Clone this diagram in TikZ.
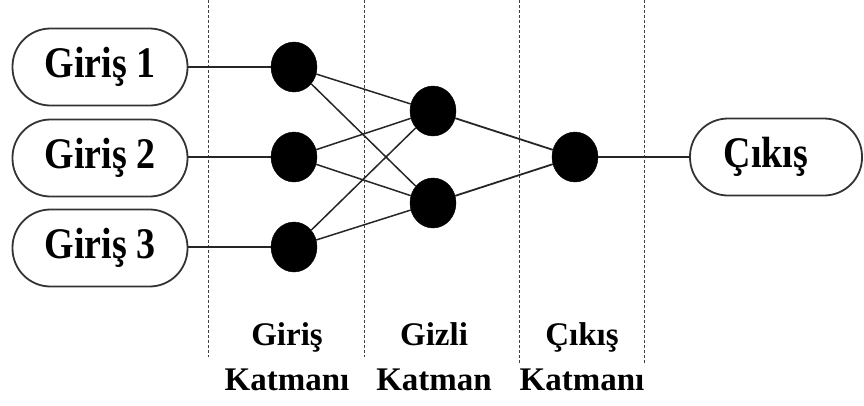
\documentclass[tikz,border=0pt]{standalone}
\usepackage{fontspec}
\usepackage{graphicx}
\setmainfont{Liberation Serif}
\usetikzlibrary{shapes.geometric}
\tikzset{
  iobox/.style={draw=black!80, line width=1.8pt, rounded corners=38pt, minimum width=175pt, minimum height=77pt, inner sep=0pt, fill=white},
  neuron/.style={ellipse, fill=black, draw=black, minimum width=46pt, minimum height=50pt, inner sep=0pt},
  conn/.style={draw=black!85, line width=1.8pt},
  sep/.style={draw=black!75, line width=1pt, dash pattern=on 3pt off 2pt},
  boxtext/.style={font=\fontsize{38}{40}\selectfont\bfseries},
  layertext/.style={font=\fontsize{33}{45}\selectfont\bfseries, align=center, inner sep=0pt}
}
\newcommand{\tallbox}[1]{\scalebox{1}[1.15]{#1}}
\begin{document}
\begin{tikzpicture}[x=1pt,y=-1pt]
\useasboundingbox[fill=white] (0,0) rectangle (864,405);
% separators
\coordinate (s1t) at (208,0);   \coordinate (s1b) at (208,357);
\coordinate (s2t) at (364,0);   \coordinate (s2b) at (364,357);
\coordinate (s3t) at (519,0);   \coordinate (s3b) at (519,363);
\coordinate (s4t) at (644,0);   \coordinate (s4b) at (644,363);
\draw[sep] (s1t) -- (s1b);
\draw[sep] (s2t) -- (s2b);
\draw[sep] (s3t) -- (s3b);
\draw[sep] (s4t) -- (s4b);
% input boxes
\node[iobox, boxtext] (in1) at (100,67) {\tallbox{Giriş 1}};
\node[iobox, boxtext] (in2) at (100,158) {\tallbox{Giriş 2}};
\node[iobox, boxtext] (in3) at (100,248) {\tallbox{Giriş 3}};
% neurons
\node[neuron] (a1) at (294,67) {};
\node[neuron] (a2) at (294,157) {};
\node[neuron] (a3) at (294,247) {};
\node[neuron] (h1) at (433,111) {};
\node[neuron] (h2) at (433,203) {};
\node[neuron] (o1) at (575,157) {};
% output box
\node[iobox, boxtext, minimum width=172pt] (out) at (776,157) {\tallbox{Çıkış}\hspace*{20pt}};
% connectors
\draw[conn] (in1.east |- a1) -- (a1.west);
\draw[conn] (in2.east |- a2) -- (a2.west);
\draw[conn] (in3.east |- a3) -- (a3.west);
\foreach \i in {1,2,3}{
  \foreach \j in {1,2}{
    \draw[conn, line width=1.5pt] (a\i) -- (h\j);
  }
}
\draw[conn] (h1) -- (o1);
\draw[conn] (h2) -- (o1);
\draw[conn] (o1.east) -- (out.west |- o1);
% layer labels
\node[layertext] (l1) at (287,357) {Giriş\\Katmanı};
\node[layertext] (l2) at (434,357) {Gizli\\Katman};
\node[layertext] (l3) at (582,357) {Çıkış\\Katmanı};
\end{tikzpicture}
\end{document}
